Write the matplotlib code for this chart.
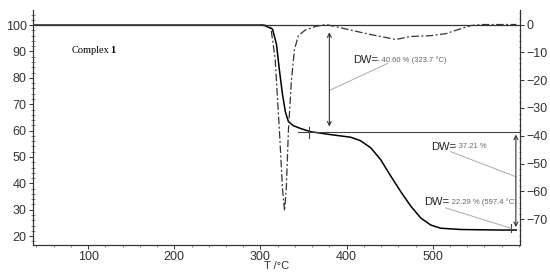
import matplotlib.pyplot as plt
from matplotlib.ticker import MultipleLocator
from matplotlib.transforms import offset_copy

# TG curve (mass %, left axis)
tg_t = [36, 300, 305, 314, 318.6, 322, 325.6, 329, 332.5, 338, 346.5, 358, 381,
        404.6, 416, 428, 439.5, 451, 463, 474.4, 486, 497.7, 509, 532.6, 579, 597]
tg_w = [100, 100, 99.8, 98.5, 92.8, 83, 73.7, 67, 63.4, 61.9, 60.8, 59.6, 58.5,
        57.5, 56.2, 53.5, 49, 42.9, 36.8, 31.4, 26.9, 24.2, 23, 22.5, 22.3, 22.3]

# DTG curve (right axis)
dtg_t = [300, 305, 312, 317, 322, 325.6, 328, 330, 332.5, 336, 339.5, 344, 352,
         364, 375.6, 387, 404.6, 428, 451, 457, 474, 498, 515, 532.6, 544, 556, 597]
dtg_v = [0, -0.2, -1, -12, -38, -59, -67, -59, -38, -20, -9, -4, -2,
         -0.7, 0, -0.7, -2, -3.6, -5, -5.4, -4.3, -4, -3.3, -1.5, -0.4, 0, 0]

x_ticks = [100, 200, 300, 400, 500]
left_ticks = [20, 30, 40, 50, 60, 70, 80, 90, 100]
right_ticks = [0, -10, -20, -30, -40, -50, -60, -70]

plt.rcParams['font.family'] = ['Liberation Sans', 'DejaVu Sans']

fig = plt.figure(figsize=(5.5, 2.72), dpi=100)
ax = fig.add_axes([0.06, 0.099, 0.885, 0.863])
ax2 = ax.twinx()

ax.set_xlim(36, 601)
ax.set_ylim(16.6, 105.6)
ax2.set_ylim(-79.3, 5.1)

ax.plot(tg_t, tg_w, color='black', lw=1.1)
ax2.plot(dtg_t, dtg_v, color='#333333', lw=0.9, ls=(0, (6, 2, 1.5, 2)))

# reference lines
ax.axhline(100, color='#333333', lw=0.9)
ax.plot([344, 601], [59.4, 59.4], color='#444444', lw=0.8)
ax.plot([355.8, 355.8], [57.2, 61.5], color='#444444', lw=0.8)
ax.plot([591, 591], [21.5, 24.5], color='#444444', lw=0.8)

# double arrows
arrow = dict(arrowstyle='<->', color='#333333', lw=0.8, shrinkA=0, shrinkB=0, mutation_scale=7)
ax.annotate('', xy=(380, 61.5), xytext=(380, 97.3), arrowprops=arrow)
ax.annotate('', xy=(596.5, 23.4), xytext=(596.5, 58.5), arrowprops=arrow)

# leader lines
ax.plot([380, 447.7], [75.2, 85.5], color='#aaaaaa', lw=0.7)
ax.plot([596.5, 521], [42.5, 52], color='#aaaaaa', lw=0.7)
ax.plot([515, 590.7], [30.7, 23.0], color='#aaaaaa', lw=0.7)

# DW labels: "DW=" then smaller grey value just after it
shift = offset_copy(ax.transData, fig=fig, x=17, y=0, units='points')
for t, w, s in [(408, 86.7, '- 40.60 % (323.7 °C)'),
                (497.7, 53.9, '- 37.21 %'),
                (489.5, 33.0, '- 22.29 % (597.4 °C)')]:
    ax.text(t, w, 'DW=', fontsize=8, va='center', color='#222222')
    ax.text(t, w, s, fontsize=5.5, va='center', color='#666666', transform=shift)

ax.text(81, 90.5, 'Complex', fontsize=7.5, va='center', family='Liberation Serif')
ax.text(81, 90.5, '1', fontsize=7.5, va='center', family='Liberation Serif', weight='bold',
        transform=offset_copy(ax.transData, fig=fig, x=28, y=0, units='points'))

# axes styling
for a in (ax, ax2):
    a.spines['top'].set_visible(False)
    for s in a.spines.values():
        s.set_linewidth(0.8)
        s.set_color('#333333')

ax.set_xticks(x_ticks)
ax.xaxis.set_minor_locator(MultipleLocator(20))
ax.set_yticks(left_ticks)
ax.yaxis.set_minor_locator(MultipleLocator(2))
ax2.set_yticks(right_ticks)
ax2.yaxis.set_minor_locator(MultipleLocator(2))

ax.tick_params(axis='both', which='major', labelsize=9, length=3, width=0.7, pad=1.5,
               colors='#333333', labelcolor='#333333')
ax.tick_params(axis='both', which='minor', length=1.5, width=0.5, colors='#555555')
ax.tick_params(axis='y', which='minor', direction='inout', length=3)
ax2.tick_params(axis='y', which='major', labelsize=9, length=3, width=0.7, pad=2,
                colors='#333333', labelcolor='#333333')
ax2.tick_params(axis='y', which='minor', length=1.5, width=0.5, colors='#555555',
                direction='inout')

ax.set_xlabel('T /°C', fontsize=8, labelpad=-2, color='#333333')

fig.savefig('out.png', dpi=100)
